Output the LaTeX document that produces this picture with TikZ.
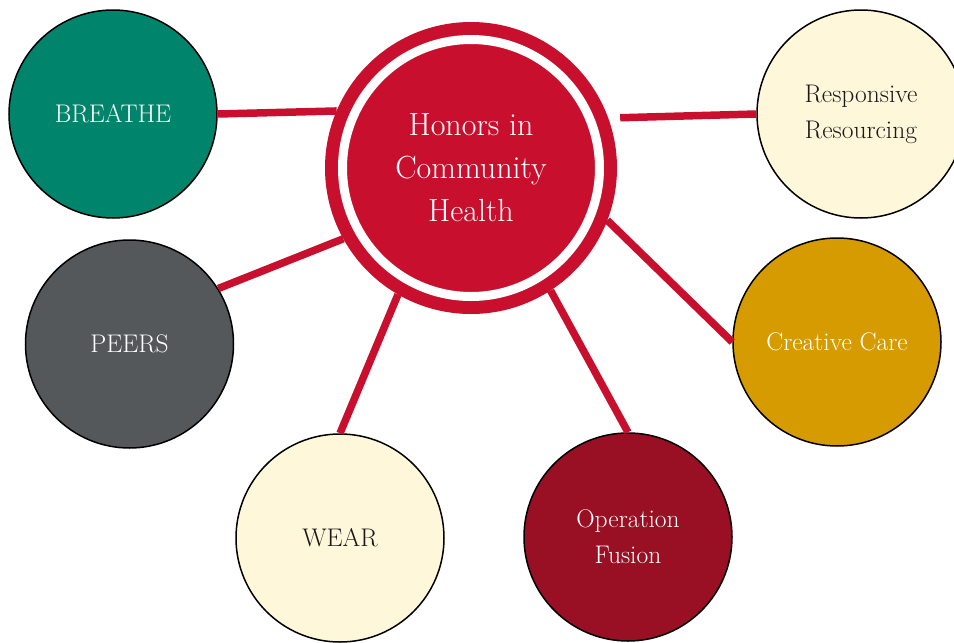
\documentclass[tikz,border=0pt]{standalone}
\usepackage{xcolor}
\usetikzlibrary{calc}

\definecolor{hubred}{HTML}{C8102E}
\definecolor{deepgreen}{HTML}{00846B}
\definecolor{slategrey}{HTML}{54585A}
\definecolor{cream}{HTML}{FFF7D9}
\definecolor{gold}{HTML}{D69B00}
\definecolor{wine}{HTML}{990F23}

\begin{document}
\begin{tikzpicture}[x=1pt, y=-1pt,
  sat/.style={circle, draw=black, line width=1.5pt, minimum size=208pt, inner sep=0pt,
    align=center, text=white, font=\fontsize{25.5}{36}\selectfont},
  link/.style={hubred, line width=7.5pt}]
\useasboundingbox (0,0) rectangle (954,643);
\clip (0,0) rectangle (954,643);

\node[circle, fill=hubred, draw=hubred, double=white, double distance=9pt, line width=13pt,
  minimum size=257pt, inner sep=0pt, outer sep=17.5pt, align=center, text=white,
  font=\fontsize{32}{43}\selectfont] (hub) at (471,168) {Honors in\\Community\\Health};

\node[sat, fill=deepgreen] (breathe) at (113,114) {BREATHE};
\node[sat, fill=slategrey] (peers) at (129.5,344) {PEERS};
\node[sat, fill=cream, text=black!90] (wear) at (340,538) {WEAR};
\node[sat, fill=wine] (fusion) at (628,537) {Operation\\Fusion};
\node[sat, fill=gold] (creative) at (837,342) {Creative Care};
\node[sat, fill=cream, text=black!90] (respons) at (861,114) {Responsive\\Resourcing};

%links to the hub
\draw[link] (breathe.east) -- (hub.157);
\draw[link] (peers.32) -- (hub.209);
\draw[link] (wear.north) -- (hub.240);
\draw[link] (fusion.north) -- (hub.303);
\draw[link] (creative.west) -- (hub.339);
\draw[link, shorten >=12pt] (respons.west) -- (hub.20);

\end{tikzpicture}
\end{document}
